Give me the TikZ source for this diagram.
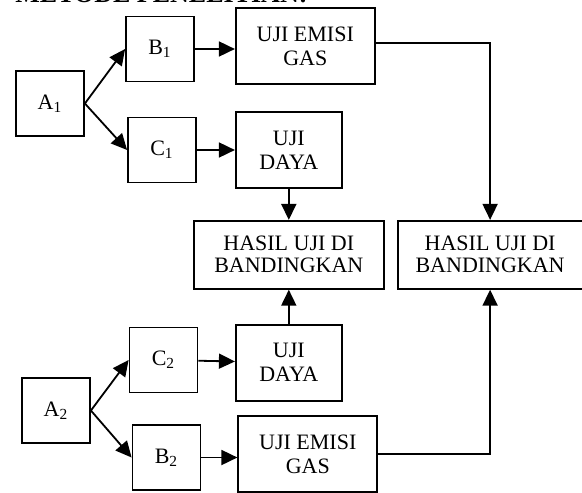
\documentclass[tikz,border=0pt]{standalone}
\usepackage{fontspec}
\setmainfont{Liberation Serif}
\usetikzlibrary{positioning,arrows.meta}

\begin{document}
\begin{tikzpicture}
                [x=0.5pt,y=-0.5pt,node distance=19pt,
                kotak/.style={rectangle,draw,line width=0.9pt,inner sep=0pt,align=center,font=\fontsize{11}{12}\selectfont},
                kecil/.style={kotak,minimum width=34pt,minimum height=32.5pt},
                uji/.style={kotak,minimum height=38pt},
                hasil/.style={kotak,minimum height=34pt,font=\fontsize{11}{11}\selectfont},
                panah/.style={-{Triangle[length=8pt,width=7.5pt]},line width=0.9pt}]
                \useasboundingbox (0,0) rectangle (582,492);
                \node[anchor=base west,inner sep=0pt,font=\fontsize{13}{15}\selectfont\bfseries] (judul) at (15,2.5) {METODE PENELITIAN:};
                \node[kecil] (a1) at (50,103.5) {A\textsubscript{1}};
                \node[kecil] (b1) at (160,49) {B\textsubscript{1}};
                \node[kecil] (c1) at (162,150) {C\textsubscript{1}};
                \node[uji,minimum width=69.5pt] (emisi1)[right=20pt of b1,yshift=1.5pt]{UJI EMISI\\GAS};
                \node[uji,minimum width=53pt] (daya1)[right=19pt of c1]{UJI\\DAYA};
                \node[hasil,minimum width=95pt] (hasil1)[below=15.5pt of daya1]{HASIL UJI DI\\BANDINGKAN};
                \node[hasil,minimum width=92.5pt] (hasil2)[right=6pt of hasil1]{HASIL UJI DI\\BANDINGKAN};
                \node[uji,minimum width=53pt] (daya2)[below=17pt of hasil1]{UJI\\DAYA};
                \node[kecil] (a2) at (56,410.5) {A\textsubscript{2}};
                \node[kecil] (c2) at (163.5,360) {C\textsubscript{2}};
                \node[kecil] (b2) at (166.5,457.5) {B\textsubscript{2}};
                \node[uji,minimum width=69.5pt] (emisi2)[right=18pt of b2,yshift=1.75pt]{UJI EMISI\\GAS};
                \path[panah](a1.east) edge (b1.west)
                            edge (c1.west)
                        (b1.east) edge (b1.east -| emisi1.west)
                        (c1) edge (daya1)
                        (daya1) edge (hasil1)
                        (daya2) edge (hasil1)
                        (a2.east) edge (c2.west)
                            edge (b2.west)
                        (c2) edge (daya2)
                        (b2.east) edge (b2.east -| emisi2.west);
                \draw[panah] ([yshift=1.5pt]emisi1.east) -| (hasil2.north);
                \draw[panah] (emisi2.east) -| (hasil2.south);
            \end{tikzpicture}
\end{document}
